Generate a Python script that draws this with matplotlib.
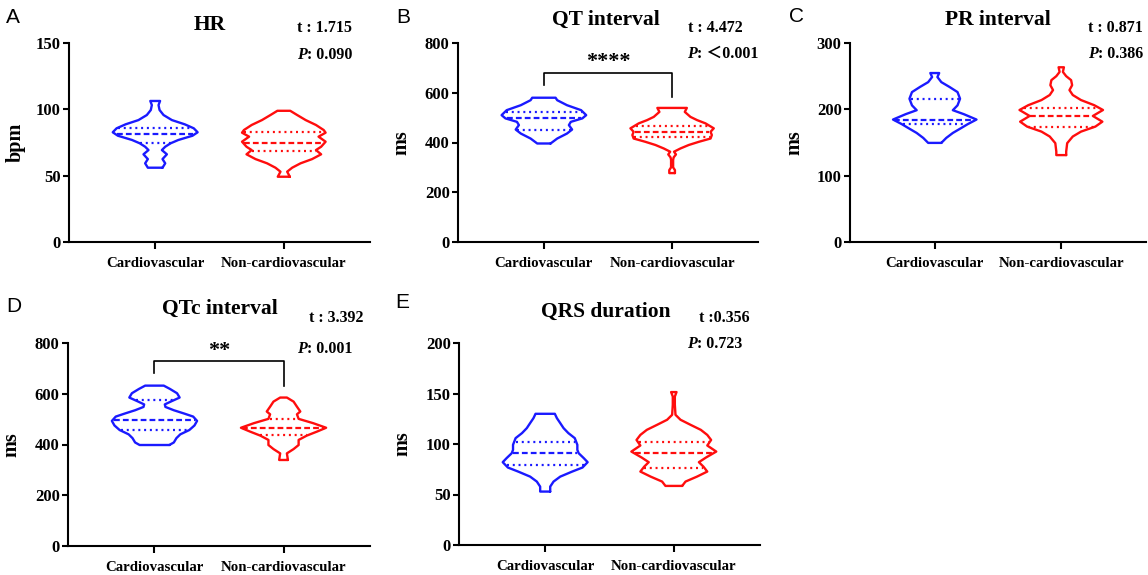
import matplotlib.pyplot as plt
import numpy as np

plt.rcParams['font.family'] = ['Liberation Serif', 'DejaVu Serif']
plt.rcParams['font.weight'] = 'bold'

groups = ['Cardiovascular', 'Non-cardiovascular']
colors = ['#1a1aff', '#ff0d0d']

# violin outlines: value levels and half widths (category units)
hr_cv_y = [56.0, 59.3, 62.5, 66.1, 69.3, 71.8, 74.4, 76.9, 80.1, 82.7, 85.7, 88.7, 91.9, 95.7, 99.5, 103.2, 106.3]
hr_cv_w = [0.057, 0.078, 0.057, 0.091, 0.052, 0.078, 0.12, 0.18, 0.29, 0.33, 0.30, 0.23, 0.13, 0.065, 0.034, 0.026, 0.038]
hr_cv_q = [74.8, 81.2, 85.7]
hr_ncv_y = [49.2, 53.0, 56.0, 59.3, 62.5, 66.1, 69.3, 71.8, 75.6, 79.4, 82.4, 84.4, 88.2, 91.9, 95.7, 98.9]
hr_ncv_w = [0.047, 0.026, 0.065, 0.13, 0.22, 0.29, 0.25, 0.29, 0.325, 0.27, 0.325, 0.31, 0.25, 0.17, 0.104, 0.05]
hr_ncv_q = [68.6, 74.8, 82.7]

qt_cv_y = [396, 416, 436, 452, 470, 483, 497, 510, 530, 550, 570, 580]
qt_cv_w = [0.052, 0.104, 0.18, 0.22, 0.195, 0.21, 0.30, 0.33, 0.29, 0.18, 0.104, 0.091]
qt_cv_q = [452, 497, 523]
qt_ncv_y = [277, 289, 300, 330, 340, 352, 363, 376, 390, 403, 416, 430, 443, 457, 477, 490, 503, 523, 539]
qt_ncv_w = [0.022, 0.022, 0.008, 0.008, 0.012, 0.03, 0.015, 0.065, 0.13, 0.21, 0.30, 0.31, 0.30, 0.325, 0.26, 0.195, 0.143, 0.099, 0.115]
qt_ncv_q = [421, 443, 468]

pr_cv_y = [149.4, 156.9, 164.4, 171.9, 177.6, 184.6, 192.7, 198.7, 206, 216, 226, 233.7, 241, 248.7, 254.7]
pr_cv_w = [0.052, 0.091, 0.143, 0.21, 0.26, 0.33, 0.23, 0.143, 0.18, 0.2, 0.18, 0.117, 0.052, 0.021, 0.035]
pr_cv_q = [177.6, 184.6, 216]
pr_ncv_y = [131, 136.4, 149, 159, 166.4, 174, 181.4, 190, 199, 206.3, 214, 221.6, 229, 236.4, 244, 250, 256.4, 263.4]
pr_ncv_w = [0.039, 0.039, 0.047, 0.091, 0.156, 0.27, 0.325, 0.25, 0.33, 0.26, 0.156, 0.091, 0.065, 0.086, 0.078, 0.039, 0.013, 0.021]
pr_ncv_q = [174, 189.5, 202]

qtc_cv_y = [398, 408, 425, 440, 457, 475, 493, 510, 522, 535, 548, 558, 570, 585, 602, 619, 632]
qtc_cv_w = [0.115, 0.15, 0.17, 0.20, 0.27, 0.31, 0.33, 0.30, 0.23, 0.15, 0.085, 0.08, 0.13, 0.195, 0.175, 0.12, 0.072]
qtc_cv_q = [457, 496, 575]
qtc_ncv_y = [339, 352, 365, 382, 398, 418, 435, 451, 466, 484, 501, 519, 530, 549, 569, 585]
qtc_ncv_w = [0.034, 0.03, 0.026, 0.078, 0.117, 0.117, 0.18, 0.26, 0.33, 0.23, 0.117, 0.104, 0.13, 0.104, 0.078, 0.026]
qtc_ncv_q = [437, 466, 501]

qrs_cv_y = [52.9, 57.8, 62.8, 67.7, 72.7, 76.7, 82, 86, 90.9, 94.2, 99.2, 105.8, 110.8, 115.7, 120.7, 125.6, 129.9]
qrs_cv_w = [0.039, 0.039, 0.065, 0.117, 0.21, 0.29, 0.33, 0.30, 0.26, 0.25, 0.25, 0.23, 0.18, 0.143, 0.117, 0.091, 0.075]
qrs_cv_q = [79.3, 90.9, 102.4]
qrs_ncv_y = [58.5, 62.8, 67.7, 72.7, 77.6, 82, 86.6, 92.5, 98.5, 104, 109, 114, 119, 124, 128.9, 138.8, 147, 151.4]
qrs_ncv_w = [0.065, 0.091, 0.18, 0.26, 0.23, 0.195, 0.25, 0.33, 0.26, 0.29, 0.26, 0.21, 0.13, 0.052, 0.013, 0.008, 0.008, 0.021]
qrs_ncv_q = [76, 90.9, 102.4]

titles = ['HR', 'QT interval', 'PR interval', 'QTc interval', 'QRS duration']
ylabels = ['bpm', 'ms', 'ms', 'ms', 'ms']
yticks = [[0, 50, 100, 150], [0, 200, 400, 600, 800], [0, 100, 200, 300],
          [0, 200, 400, 600, 800], [0, 50, 100, 150, 200]]
t_values = ['t : 1.715', 't : 4.472', 't : 0.871', 't : 3.392', 't :0.356']
p_values = [': 0.090', ': \uff1c0.001', ': 0.386', ': 0.001', ': 0.723']
stars = [None, '****', None, '**', None]

W, H = 1148, 575


def fx(px):
    return px / W


def fy(py):
    return 1 - py / H


def draw_violin(ax, pos, ys, ws, quarts, color):
    ys = np.asarray(ys, float)
    ws = np.asarray(ws, float)
    xs = np.concatenate([pos + ws, (pos - ws)[::-1], [pos + ws[0]]])
    yy = np.concatenate([ys, ys[::-1], [ys[0]]])
    ax.plot(xs, yy, color=color, lw=1.7, solid_joinstyle='round', solid_capstyle='round')
    for k, q in enumerate(quarts):
        hw = np.interp(q, ys, ws) - 0.01
        ls = (0, (2.6, 1.4)) if k == 1 else (0, (0.9, 1.7))
        ax.plot([pos - hw, pos + hw], [q, q], color=color, lw=1.6, ls=ls)


fig = plt.figure(figsize=(W / 100, H / 100), dpi=100)

# axes boxes in pixels: left, top, right, bottom
boxes = [(69, 43, 370, 242), (458, 43, 758, 242), (850, 43, 1146, 242),
         (68, 343, 370, 546), (459, 343, 760, 545)]
violins = [
    [(hr_cv_y, hr_cv_w, hr_cv_q), (hr_ncv_y, hr_ncv_w, hr_ncv_q)],
    [(qt_cv_y, qt_cv_w, qt_cv_q), (qt_ncv_y, qt_ncv_w, qt_ncv_q)],
    [(pr_cv_y, pr_cv_w, pr_cv_q), (pr_ncv_y, pr_ncv_w, pr_ncv_q)],
    [(qtc_cv_y, qtc_cv_w, qtc_cv_q), (qtc_ncv_y, qtc_ncv_w, qtc_ncv_q)],
    [(qrs_cv_y, qrs_cv_w, qrs_cv_q), (qrs_ncv_y, qrs_ncv_w, qrs_ncv_q)],
]
letters = ['A', 'B', 'C', 'D', 'E']
letter_pos = [(6, 23), (396, 23), (789, 22), (6, 312), (395, 308)]
title_pos = [(210, 30), (606, 25), (998, 25), (220, 314), (606, 317)]
t_pos = [(297, 32), (688, 32), (1088, 32), (309, 322), (699, 322)]
p_pos = [(297, 59), (687, 58), (1088, 58), (297, 353), (687, 348)]
bracket = [None, (679, 630, 582), None, (730, 681, 631), None]
star_y = [None, 722, None, 768, None]

for i, (l, t, r, b) in enumerate(boxes):
    ax = fig.add_axes([fx(l), fy(b), fx(r - l), (b - t) / H])
    for j in range(2):
        ys, ws, qs = violins[i][j]
        draw_violin(ax, j, ys, ws, qs, colors[j])
    ax.set_xlim(-0.67, 1.67)
    ax.set_ylim(0, yticks[i][-1])
    ax.set_yticks(yticks[i])
    ax.set_xticks([0, 1])
    ax.set_xticklabels(groups)
    for s in ['top', 'right']:
        ax.spines[s].set_visible(False)
    for s in ['left', 'bottom']:
        ax.spines[s].set_linewidth(1.5)
    ax.tick_params(width=1.5, length=4, labelsize=12, pad=2)
    ax.tick_params(axis='x', length=5, pad=6, labelsize=10.7)
    ax.set_ylabel(ylabels[i], fontsize=14.5, fontweight='bold')
    ax.yaxis.set_label_coords(-0.145 if i == 0 else -0.155, 0.5)

    if bracket[i] is not None:
        top, left_end, right_end = bracket[i]
        ax.plot([0, 0, 1, 1], [left_end, top, top, right_end], color='black', lw=1.2)
        ax.text(0.5, star_y[i], stars[i], ha='center', va='center', fontsize=16)

    fig.text(fx(letter_pos[i][0]), fy(letter_pos[i][1]), letters[i], fontsize=15,
             fontfamily='Liberation Sans', fontweight='normal', va='baseline')
    fig.text(fx(title_pos[i][0]), fy(title_pos[i][1]), titles[i], fontsize=15.5,
             ha='center', va='baseline')
    fig.text(fx(t_pos[i][0]), fy(t_pos[i][1]), t_values[i], fontsize=11.5, va='baseline')
    pt = fig.text(fx(p_pos[i][0]), fy(p_pos[i][1]), 'P', fontsize=11.5, style='italic', va='baseline')
    ax.annotate(p_values[i], xy=(1, 0), xycoords=pt, ha='left', va='bottom', fontsize=11.5,
                family=['Liberation Serif', 'Noto Sans CJK SC', 'DejaVu Sans'])

fig.savefig('out.png', dpi=100)
